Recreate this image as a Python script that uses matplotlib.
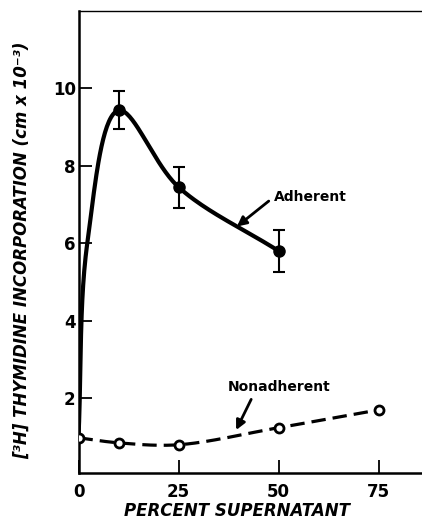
import numpy as np
import matplotlib
matplotlib.use('Agg')
import matplotlib.pyplot as plt

# measured points
pct = [0, 10, 25, 50]
adherent = [1.0, 9.43, 7.45, 5.8]
adh_lo = [None, 8.94, 6.9, 5.25]
adh_hi = [None, 9.93, 7.98, 6.35]

pct_non = [0, 10, 25, 50, 75]
nonadherent = [0.97, 0.84, 0.79, 1.23, 1.69]

# hand-drawn fitted curves
adh_curve_x = [0, 2.2, 10, 25, 50]
adh_curve_y = [1.0, 6.0, 9.43, 7.45, 5.8]
non_curve_x = [0, 10, 25, 50, 75]
non_curve_y = [0.97, 0.84, 0.79, 1.23, 1.69]

xticks = [0, 25, 50, 75]
yticks = [2, 4, 6, 8, 10]


def smooth(xs, ys, n=40, sx=4.0, sy=38.75):
    # centripetal catmull-rom through the traced points (done in pixel-ish units)
    p = np.column_stack([np.array(xs) * sx, np.array(ys) * sy]).astype(float)
    p = np.vstack([2 * p[0] - p[1], p, 2 * p[-1] - p[-2]])
    out = []
    for i in range(1, len(p) - 2):
        p0, p1, p2, p3 = p[i - 1], p[i], p[i + 1], p[i + 2]
        t0 = 0
        t1 = t0 + np.linalg.norm(p1 - p0) ** 0.5
        t2 = t1 + np.linalg.norm(p2 - p1) ** 0.5
        t3 = t2 + np.linalg.norm(p3 - p2) ** 0.5
        t = np.linspace(t1, t2, n)[:, None]
        a1 = (t1 - t) / (t1 - t0) * p0 + (t - t0) / (t1 - t0) * p1
        a2 = (t2 - t) / (t2 - t1) * p1 + (t - t1) / (t2 - t1) * p2
        a3 = (t3 - t) / (t3 - t2) * p2 + (t - t2) / (t3 - t2) * p3
        b1 = (t2 - t) / (t2 - t0) * a1 + (t - t0) / (t2 - t0) * a2
        b2 = (t3 - t) / (t3 - t1) * a2 + (t - t1) / (t3 - t1) * a3
        c = (t2 - t) / (t2 - t1) * b1 + (t - t1) / (t2 - t1) * b2
        out.append(c)
    c = np.vstack(out)
    return c[:, 0] / sx, c[:, 1] / sy


fig = plt.figure(figsize=(4.22, 5.22), dpi=100)
ax = fig.add_axes([78.5 / 422, 49 / 522, 344 / 422, 462 / 522])

# adherent
cx, cy = smooth(adh_curve_x, adh_curve_y)
ax.plot(cx, cy, color='k', lw=3.0, solid_capstyle='round', zorder=2)
yerr_lo = [0 if l is None else y - l for y, l in zip(adherent, adh_lo)]
yerr_hi = [0 if h is None else h - y for y, h in zip(adherent, adh_hi)]
ax.errorbar(pct[1:], adherent[1:], yerr=[yerr_lo[1:], yerr_hi[1:]], fmt='o',
            color='k', ms=8, ecolor='k', elinewidth=1.5, capsize=4, capthick=1.5, zorder=3)

# nonadherent
nx, ny = smooth(non_curve_x, non_curve_y)
ax.plot(nx, ny, color='k', lw=2.3, dashes=(4.5, 2.2), zorder=2)
ax.plot(pct_non, nonadherent, 'o', ms=6.5, mfc='white', mec='k', mew=2.0, zorder=4)

ax.annotate('Adherent', xy=(39.6, 6.43), xytext=(48.8, 7.19), ha='left', va='center',
            fontsize=10, fontweight='bold',
            arrowprops=dict(arrowstyle='-|>', color='k', lw=2.0, mutation_scale=14,
                            relpos=(0, 0.5), shrinkA=2, shrinkB=0))
ax.annotate('Nonadherent', xy=(39.4, 1.17), xytext=(37.4, 2.28), ha='left', va='center',
            fontsize=10, fontweight='bold',
            arrowprops=dict(arrowstyle='-|>', color='k', lw=2.0, mutation_scale=14,
                            relpos=(0.25, 0), shrinkA=2, shrinkB=0))

ax.set_xlim(0, 86)
ax.set_ylim(0.06, 12.0)
ax.set_xticks(xticks)
ax.set_yticks(yticks)
ax.tick_params(direction='in', length=9.5, width=1.3, labelsize=12, colors='k')
ax.tick_params(axis='x', pad=7)
ax.tick_params(axis='y', pad=2)
for lab in ax.get_xticklabels() + ax.get_yticklabels():
    lab.set_fontweight('bold')
ax.spines['right'].set_visible(False)
ax.spines['left'].set_linewidth(1.8)
ax.spines['bottom'].set_linewidth(1.8)
ax.spines['top'].set_linewidth(1.0)

fig.text(237 / 422, 1 - 511 / 522, 'PERCENT SUPERNATANT', ha='center', va='center',
         fontsize=12, fontweight='bold', fontstyle='italic')
fig.text(22 / 422, 1 - 250 / 522, '[³H] THYMIDINE INCORPORATION (cm x 10⁻³)',
         ha='center', va='center', rotation=90, fontsize=12, fontweight='bold',
         fontstyle='italic')

fig.savefig('out.png', dpi=100)
